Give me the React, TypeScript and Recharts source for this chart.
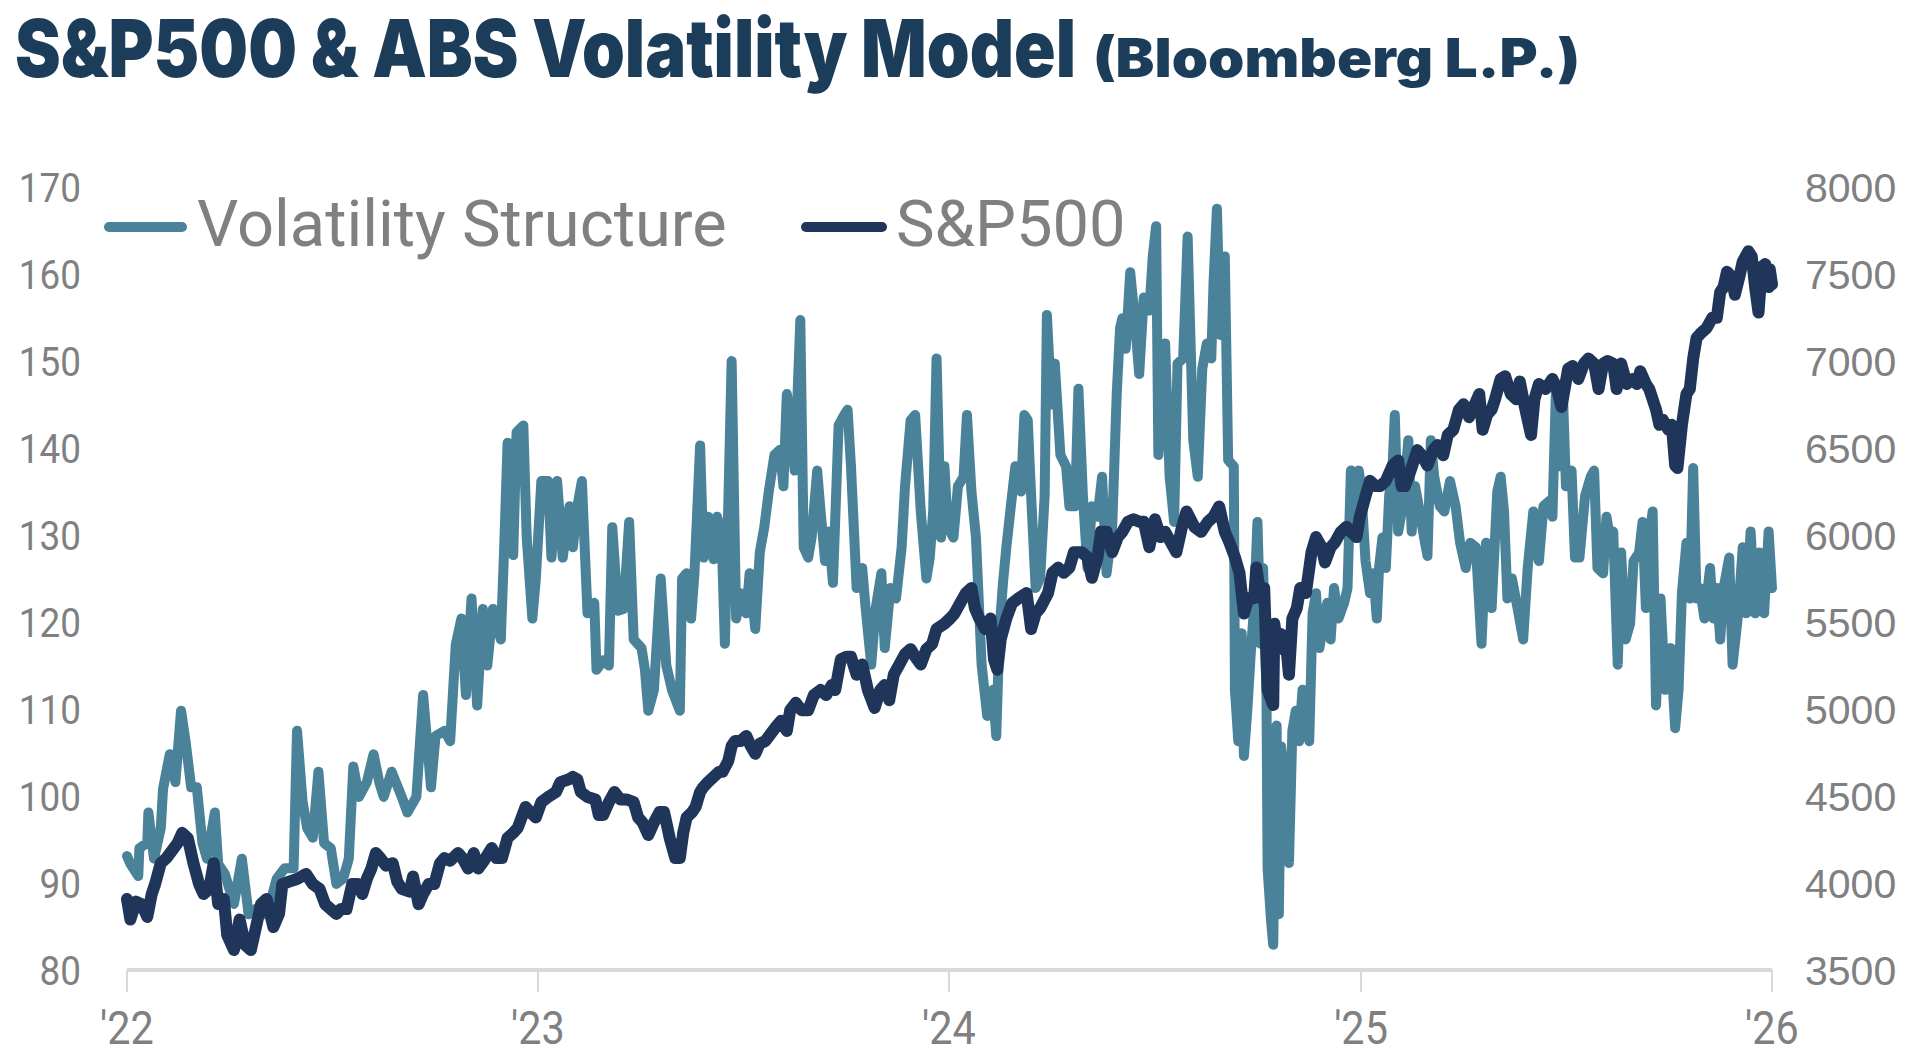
import React from 'react';
import { LineChart, Line, XAxis, YAxis } from 'recharts';

// Days since 1 Jan 2022 for each observation of the volatility model
const volDays = [
  0, 3, 10, 11, 18, 19, 24, 30, 32, 38, 43, 48, 52, 57, 62, 67, 71, 78, 81, 87, 95, 102, 108, 114, 121, 127, 133, 140,
  148, 151, 156, 160, 165, 170, 175, 181, 186, 192, 197, 201, 206, 213, 219, 224, 228, 235, 244, 249, 257, 263, 270,
  274, 282, 287, 292, 297, 301, 306, 311, 316, 320, 325, 332, 335, 338, 343, 346, 352, 355, 360, 363, 368, 374, 377,
  382, 387, 393, 396, 400, 404, 409, 415, 417, 423, 428, 431, 436, 441, 446, 450, 457, 460, 463, 468, 474, 479, 484,
  491, 493, 497, 501, 504, 509, 512, 516, 521, 524, 528, 531, 534, 537, 541, 545, 550, 553, 558, 562, 566, 570, 575,
  580, 583, 586, 589, 593, 598, 601, 605, 608, 613, 616, 620, 623, 627, 632, 637, 640, 643, 648, 653, 656, 661, 665,
  670, 673, 678, 683, 688, 691, 696, 700, 705, 710, 713, 716, 719, 723, 726, 729, 734, 738, 743, 746, 750, 754, 759,
  764, 769, 772, 775, 778, 781, 786, 789, 794, 797, 800, 803, 807, 811, 815, 817, 821, 824, 829, 834, 837, 842, 845,
  849, 853, 857, 862, 866, 870, 875, 879, 882, 884, 887, 891, 895, 899, 903, 908, 911, 914, 916, 919, 922, 926, 930,
  933, 938, 942, 947, 951, 955, 959, 963, 965, 968, 971, 975, 978, 983, 984, 987,
  990, 992, 995, 998, 1001, 1004, 1007, 1009, 1012, 1013, 1016, 1018, 1021, 1023, 1025, 1029, 1032, 1035, 1038, 1041,
  1044, 1047, 1050, 1053, 1056, 1059, 1062, 1066, 1069, 1072, 1076, 1081, 1084, 1087, 1090, 1094, 1096, 1100, 1104,
  1107, 1110, 1112, 1115, 1118, 1121, 1124, 1126, 1129, 1133, 1138, 1141, 1144, 1149, 1152, 1155, 1158, 1161, 1166,
  1170, 1175, 1180, 1184, 1189, 1193, 1198, 1203, 1207, 1212, 1217, 1220, 1223, 1226, 1230, 1235, 1240, 1244, 1249,
  1254, 1258, 1263, 1266, 1269, 1272, 1275, 1278, 1283, 1286, 1290, 1295, 1300, 1303, 1306, 1311, 1314, 1317, 1320,
  1324, 1327, 1331, 1335, 1338, 1343, 1346, 1349, 1352, 1355, 1358, 1362, 1366, 1371, 1375, 1378, 1381, 1385, 1388,
  1391, 1394, 1397, 1401, 1406, 1409, 1412, 1415, 1418, 1423, 1426, 1431, 1435, 1438, 1442, 1446, 1450, 1454, 1458,
  1461,
];

// Volatility Structure readings (left axis)
const volValues = [
  93.1, 92.2, 90.8, 94, 94.6, 98.1, 92.8, 96.3, 100.8, 104.8, 101.6, 109.8, 106.3, 101, 101, 94.6, 92.8, 98.1, 92.2, 91,
  87.6, 92.8, 86.4, 87, 86.4, 87.6, 90.5, 91.7, 91.7, 107.5, 99.3, 96.3, 95.2, 102.8, 94.6, 94, 89.9, 90.5, 92.8, 103.4,
  99.9, 101.6, 104.8, 101.6, 99.9, 102.8, 99.9, 98.1, 99.9, 111.6, 101, 106.9, 107.5, 106.3, 117.4, 120.4, 111.6, 122.7,
  110.4, 121.5, 115, 121.5, 118, 128.6, 140.6, 127.7, 141.8, 142.6, 129.7, 120.4, 124.8, 136.2, 136.2, 127.4, 136.2,
  127.4, 133.3, 128.6, 133.3, 136.2, 121, 122.2, 114.5, 115.6, 115, 130.9, 121.3, 121.5, 131.5, 118, 117, 114.5, 109.8,
  112.2, 125, 115, 112.2,
  109.8, 125, 125.6, 120.4, 125.6, 140.3, 127.4, 132.1, 127.2, 132.1, 130.4, 117.5, 133.3, 150, 120.4, 123.3, 121,
  125.6, 119.2, 128, 130.9, 135, 139.2, 139.8, 135.6, 146.2, 143.8, 137.4, 154.7, 128.6, 127.4, 129.7, 137.4, 132.7,
  127, 130.4, 124.5, 142.6, 143.8, 144.4, 137.9, 123.9, 126.2, 121.6, 115.1, 121.6, 125.6, 117, 123.9, 122.7, 128.6,
  135.6, 143.2, 143.8, 132.7, 125, 127.4, 132.7, 150.3, 129.7, 137.9, 130.9, 129.7, 135.6, 136.7, 143.8, 135, 129.7,
  115.1, 109.2, 112.2, 106.9, 119.2, 124.5, 128.6, 134.5, 137.9, 135, 143.8, 143.2, 134.5, 123.9, 125, 134.5, 155.3,
  145, 149.7, 139.2, 137.9, 133.3, 133.3, 146.8, 134.5, 126.2, 133.3, 132.1, 136.7, 125.6, 130.9, 146.2, 153.8, 154.9,
  151.4, 160.2, 154.9, 148.5, 157.3, 155.8, 162, 165.5, 139.2, 145.6, 152, 136.7, 131.5, 149.7, 150.3, 164.3, 140.9,
  136.7, 149.1, 152, 150.3, 159, 167.5, 153, 162, 138.6, 137.9, 112.2, 106.3,
  118.7, 104.6, 109.8, 116.3, 121.6, 131.5, 117.5, 126.2, 112.2, 91.7, 85.8, 82.9, 108.1, 86.4, 105.7, 100.5, 92.3,
  107.5, 109.8, 106.3, 112.2, 109.2, 106.3, 121, 123.3, 117, 119.2, 122.2, 118, 123.9, 120.4, 122.2, 123.9, 137.4,
  129.7, 137.4, 135.6, 127, 123.3, 125.6, 120.4, 126.2, 129.7, 126.2, 134.5, 137.9, 143.8, 130.4, 133.3, 140.9, 130.4,
  135.6, 132.1, 129.7, 127.6, 140.9, 136.7, 133.3, 132.7, 136.2, 133.3, 129.1, 126.2, 129.1, 128.6, 117.5, 129.1,
  121.6, 135, 136.7, 132.7, 122.7, 125, 121.6, 118, 126.2, 132.7, 127, 133.3, 133.9, 132.1, 146.2, 137.9, 147.4,
  135.6, 137.4, 127.4, 127.4, 134.5, 136.7, 137.4, 126.2, 125.6, 132.1, 129.7, 130.4, 115.1, 128, 118, 119.8, 127,
  128, 131.5, 121.6, 129.7, 132.7, 110.4, 122.7, 112.2, 117, 107.8, 112.2, 123.3, 129.1, 122.7, 137.7, 122.7, 123.9,
  120.4, 126.2, 120.4, 123.9, 118, 123.9, 127.4, 115.1, 121, 128.6, 121, 130.4, 121, 128, 121, 130.4, 123.9,
];

// Days since 1 Jan 2022 for each S&P500 close
const spxDays = [
  0, 3, 8, 13, 18, 22, 25, 30, 35, 40, 45, 49, 54, 59, 64, 68, 73, 77, 81, 86, 89, 95, 100, 105, 110, 114, 119, 124,
  130, 135, 138, 144, 151, 159, 165, 171, 176, 181, 186, 190, 195, 200, 205, 209, 213, 217, 221, 225, 230, 236, 240,
  244, 251, 254, 259, 263, 268, 273, 278, 282, 287, 294, 298, 303, 308, 312, 317, 324, 328, 333, 338, 343, 347, 354,
  358, 363, 368, 374, 381, 385, 392, 396, 400, 403, 409, 416, 419, 423, 428, 433, 438, 444, 450, 454, 458, 463, 468,
  473, 477, 482, 487,
  491, 494, 497, 502, 505, 509, 512, 516, 521, 526, 529, 534, 537, 540, 545, 550, 554, 558, 562, 567, 572, 577, 581,
  586, 589, 594, 599, 605, 610, 616, 621, 626, 629, 634, 639, 643, 648, 653, 658, 664, 669, 673, 677, 681, 686, 691,
  696, 700, 705, 710, 715, 719, 726, 731, 735, 740, 745, 750, 753, 757, 762, 767, 770, 773, 776, 781, 786, 792, 799,
  803, 807, 811, 818, 822, 827, 832, 837, 841, 848, 853, 857, 862, 865, 870, 875, 880, 884, 889, 894, 899, 903, 908,
  913, 918, 922, 927, 932, 937, 941, 948, 954, 960, 965, 970, 975, 979, 984, 988,
  992, 996, 1001, 1003, 1007, 1010, 1013, 1018, 1019, 1022, 1025, 1029, 1032, 1035, 1039, 1042, 1047, 1052, 1056,
  1061, 1064, 1069, 1073, 1078, 1083, 1087, 1092, 1095, 1100, 1104, 1109, 1113, 1118, 1124, 1129, 1132, 1135, 1140,
  1146, 1150, 1155, 1160, 1164, 1169, 1173, 1178, 1183, 1187, 1192, 1197, 1201, 1204, 1208, 1212, 1215, 1220, 1224,
  1229, 1234, 1237, 1241, 1244, 1247, 1250, 1254, 1260, 1266, 1270, 1274, 1280, 1284, 1289, 1294, 1298, 1303, 1307,
  1311, 1315, 1320, 1323, 1327, 1332, 1337, 1341, 1344, 1349, 1352, 1355, 1358, 1361, 1364, 1369, 1372, 1375, 1377,
  1381, 1385, 1388, 1391, 1394, 1398, 1403, 1408, 1412, 1415, 1418, 1421, 1425, 1428, 1432, 1435, 1440, 1443, 1446,
  1449, 1452, 1455, 1458, 1459, 1461,
];

// S&P500 index level (right axis)
const spxValues = [
  3908, 3790, 3893, 3878, 3805, 3937, 3994, 4114, 4143, 4186, 4230, 4288, 4258, 4114, 3994, 3937, 3966, 4114, 3879,
  3908, 3701, 3615, 3790, 3644, 3615, 3730, 3878, 3908, 3747, 3822, 3994, 4008, 4023, 4052, 3994, 3966, 3878, 3850,
  3822, 3850, 3850, 3994, 3994, 3937, 4023, 4083, 4172, 4143, 4100, 4114, 4008, 3966, 3950, 4037, 3878, 3937, 3994,
  3994, 4114, 4143, 4128, 4172, 4143, 4083, 4172, 4083, 4128, 4201, 4143, 4143, 4259, 4288, 4316, 4437, 4408, 4376,
  4465, 4494, 4523, 4580, 4595, 4610, 4595, 4523, 4494, 4480, 4391, 4391, 4465, 4523, 4480, 4480, 4465, 4376, 4347,
  4276, 4347, 4408, 4408, 4258, 4143,
  4144, 4288, 4376, 4408, 4437, 4523, 4552, 4580, 4610, 4640, 4640, 4701, 4787, 4816, 4816, 4845, 4787, 4743, 4801,
  4816, 4860, 4903, 4933, 4874, 4993, 5036, 4993, 4993, 5080, 5109, 5080, 5138, 5109, 5286, 5300, 5300, 5197, 5256,
  5109, 5006, 5109, 5138, 5051, 5197, 5256, 5316, 5344, 5300, 5256, 5344, 5373, 5460, 5490, 5520, 5549, 5608, 5666,
  5695, 5580, 5520, 5460, 5520, 5287, 5226, 5402, 5520, 5608, 5637, 5666, 5460, 5549, 5580, 5666, 5783, 5813, 5783,
  5813, 5901, 5901, 5872, 5754, 5872, 6018, 6018, 5901, 5988, 6018, 6076, 6090, 6076, 6076, 5930, 6090, 5988, 6018,
  5959, 5901, 6047, 6135, 6047, 6018, 6076, 6105, 6164, 6018, 5959, 5872, 5783,
  5549, 5637, 5637, 5813, 5637, 5695, 5109, 5023, 5490, 5344, 5431, 5402, 5197, 5520, 5580, 5695, 5666, 5901, 5988,
  5930, 5842, 5930, 5959, 6018, 6047, 6018, 5988, 6105, 6223, 6311, 6281, 6281, 6311, 6399, 6428, 6281, 6281, 6370,
  6488, 6458, 6399, 6488, 6517, 6458, 6575, 6605, 6721, 6751, 6677, 6751, 6810, 6605, 6692, 6721, 6780, 6897, 6912,
  6810, 6780, 6882, 6751, 6663, 6575, 6780, 6868, 6839, 6897, 6839, 6736, 6956, 6971, 6897, 6985, 7014, 6985, 6839,
  6985, 7000, 6985, 6839, 6985, 6868, 6897, 6868, 6941, 6868, 6839, 6780, 6721, 6633, 6663, 6605, 6633, 6399, 6385,
  6633, 6810, 6839, 7014, 7132, 7161, 7190, 7249, 7249, 7396, 7425, 7513, 7484, 7381, 7484, 7571, 7630, 7601, 7425,
  7279, 7542, 7557, 7425, 7528, 7440,
];

// Year boundaries (days since 1 Jan 2022) and their labels
const yearTicks = [0, 365, 730, 1096, 1461];
const yearLabels = ["'22", "'23", "'24", "'25", "'26"];
const volTicks = [80, 90, 100, 110, 120, 130, 140, 150, 160, 170];
const spxTicks = [3500, 4000, 4500, 5000, 5500, 6000, 6500, 7000, 7500, 8000];

const TEAL = '#4a8399';
const NAVY = '#1f365a';
const GRAY = '#808080';
const TITLE = '#1c3d5a';
const AXIS = '#d9d9d9';

const series = [
  { key: 'vol', name: 'Volatility Structure', color: TEAL, width: 10, cls: 'vol-series' },
  { key: 'spx', name: 'S&P500', color: NAVY, width: 12, cls: 'spx-series' },
];

const volData = volDays.map((d, i) => ({ day: d, vol: volValues[i] }));
const spxData = spxDays.map((d, i) => ({ day: d, spx: spxValues[i] }));

// Stroke widths of the two series paths
const seriesCss = series
  .map((s) => `.${s.cls} path { stroke-width: ${s.width}px; stroke-linejoin: round; stroke-linecap: round; }`)
  .join('\n');

const CondensedTick = (props: any) => {
  const { x, y, payload, textAnchor, fontSize, label, shift } = props;
  const text = label ? label(payload.value) : String(payload.value);
  return (
    <text
      x={x}
      y={y}
      dy={shift}
      textAnchor={textAnchor}
      fill={GRAY}
      fontFamily="Roboto, sans-serif"
      fontSize={fontSize}
      transform={`translate(${x} ${y}) scale(0.9 1) translate(${-x} ${-y})`}
    >
      {text}
    </text>
  );
};

const legendItems = [
  { name: series[0].name, color: series[0].color, x1: 109, x2: 182, tx: 197 },
  { name: series[1].name, color: series[1].color, x1: 806, x2: 882, tx: 896 },
];

export default function App() {
  return (
    <div style={{ position: 'absolute', left: 0, top: 0, width: 1928, height: 1062, background: '#ffffff' }}>
      <style>{seriesCss}</style>
      <svg width={1928} height={1062} style={{ position: 'absolute', left: 0, top: 0 }}>
        <text
          x={15}
          y={77}
          fill={TITLE}
          fontFamily="Inter, sans-serif"
          fontWeight={900}
          fontSize={80}
          textLength={1061}
          lengthAdjust="spacingAndGlyphs"
        >
          S&amp;P500 &amp; ABS Volatility Model
        </text>
        <text
          x={1093}
          y={77}
          fill={TITLE}
          fontFamily="Inter, sans-serif"
          fontWeight={900}
          fontSize={53}
          textLength={487}
          lengthAdjust="spacingAndGlyphs"
        >
          (Bloomberg L.P.)
        </text>
        {legendItems.map((it) => (
          <g key={it.name}>
            <line x1={it.x1} x2={it.x2} y1={227} y2={227} stroke={it.color} strokeWidth={10} strokeLinecap="round" />
            <text x={it.tx} y={246} fill={GRAY} fontFamily="Roboto, sans-serif" fontSize={65}>
              {it.name}
            </text>
          </g>
        ))}
      </svg>
      <div style={{ position: 'absolute', left: 0, top: 0 }}>
        <LineChart width={1928} height={1062} margin={{ top: 187, right: 0, bottom: 0, left: 0 }}>
          <XAxis
            dataKey="day"
            type="number"
            domain={[0, 1461]}
            ticks={yearTicks}
            height={92}
            axisLine={{ stroke: AXIS, strokeWidth: 4 }}
            tickLine={{ stroke: AXIS, strokeWidth: 2 }}
            tickSize={22}
            tickMargin={19}
            interval={0}
            tick={(p: any) => (
              <CondensedTick
                {...p}
                fontSize={46}
                shift="0.71em"
                label={(v: number) => yearLabels[yearTicks.indexOf(v)]}
              />
            )}
          />
          <YAxis
            yAxisId="left"
            orientation="left"
            domain={[80, 170]}
            ticks={volTicks}
            width={127}
            axisLine={false}
            tickLine={false}
            tickSize={0}
            tickMargin={46}
            interval={0}
            tick={(p: any) => <CondensedTick {...p} fontSize={41} shift="0.355em" />}
          />
          <YAxis
            yAxisId="right"
            orientation="right"
            domain={[3500, 8000]}
            ticks={spxTicks}
            width={156}
            axisLine={false}
            tickLine={false}
            tickSize={0}
            tickMargin={33}
            interval={0}
            tick={{ fill: GRAY, fontSize: 41, fontFamily: 'Liberation Sans, Arial, sans-serif' }}
          />
          <Line
            yAxisId="left"
            className={series[0].cls}
            data={volData}
            dataKey="vol"
            name={series[0].name}
            type="linear"
            stroke={series[0].color}
            strokeWidth={series[0].width}
            strokeLinejoin="round"
            strokeLinecap="round"
            dot={false}
            activeDot={false}
            isAnimationActive={false}
          />
          <Line
            yAxisId="right"
            className={series[1].cls}
            data={spxData}
            dataKey="spx"
            name={series[1].name}
            type="linear"
            stroke={series[1].color}
            strokeWidth={series[1].width}
            strokeLinejoin="round"
            strokeLinecap="round"
            dot={false}
            activeDot={false}
            isAnimationActive={false}
          />
        </LineChart>
      </div>
    </div>
  );
}
